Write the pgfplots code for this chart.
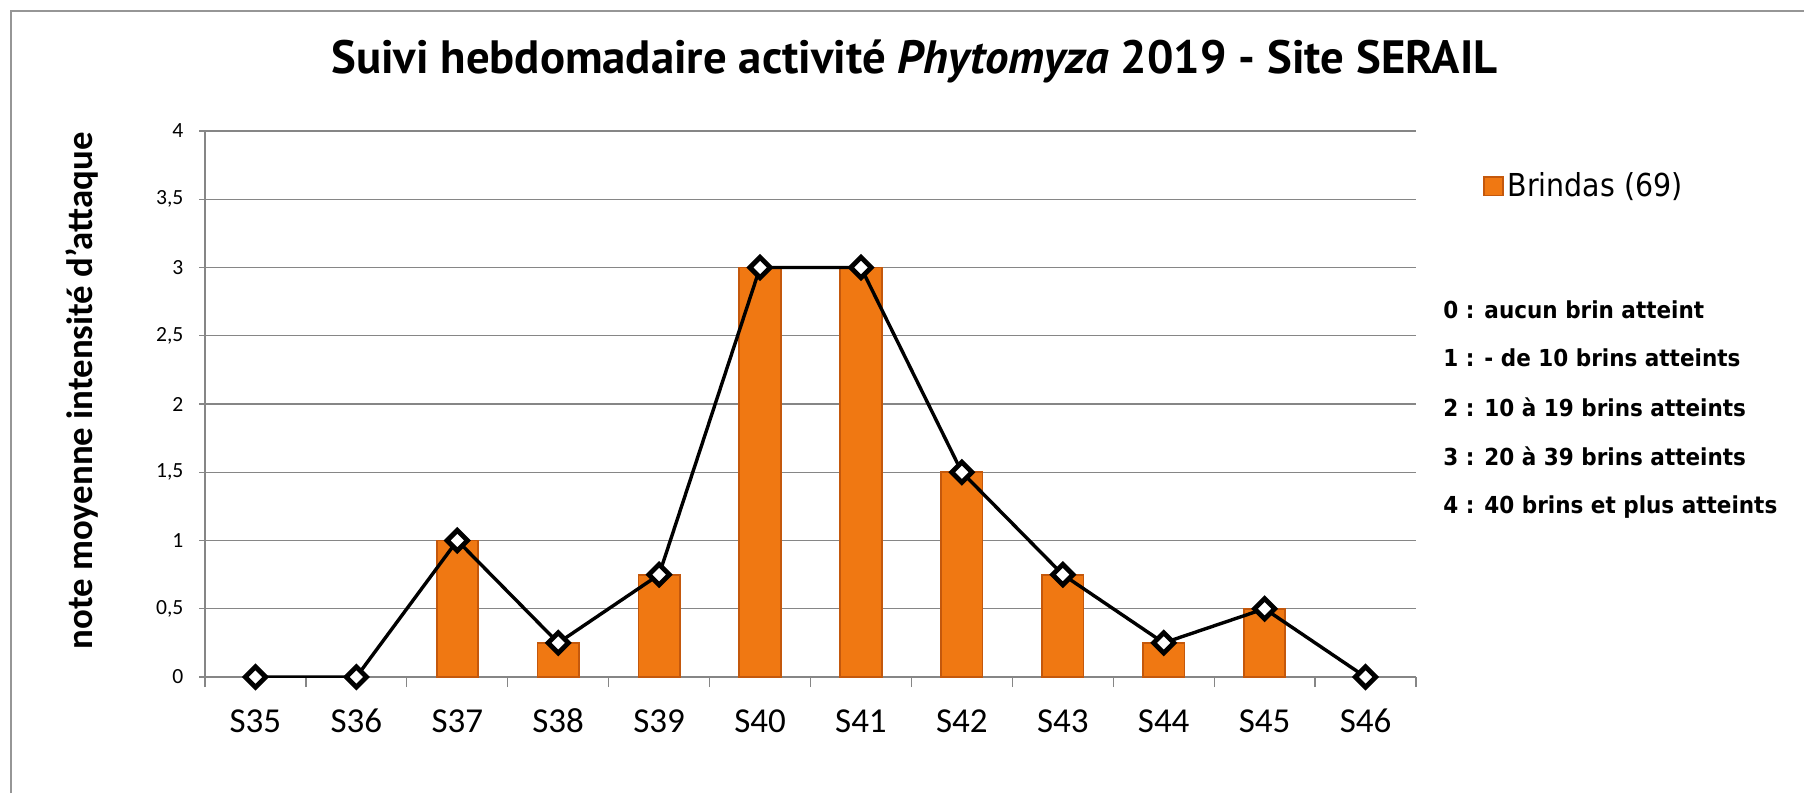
\documentclass[border=0pt]{standalone}
\usepackage{fontspec}
\setmainfont{Carlito}
\newfontfamily\titlefont{PT Sans}
\newfontfamily\legfont{DejaVu Sans}
\usepackage{pgfplots}
\pgfplotsset{compat=1.18}
\definecolor{gridgray}{RGB}{134,134,134}
\definecolor{framegray}{RGB}{150,150,150}
\definecolor{barmain}{RGB}{240,120,18}
\definecolor{bardark}{RGB}{196,88,12}
\begin{document}
\begin{tikzpicture}
\path[use as bounding box] (0,0) rectangle (902pt,396.5pt);
\draw[framegray, line width=1pt] (5.5pt,0) -- (5.5pt,391pt) -- (902pt,391pt);
\begin{axis}[
  at={(102.5pt,58pt)}, anchor=south west,
  scale only axis, width=605.5pt, height=273pt,
  xmin=-0.5, xmax=11.5, ymin=0, ymax=4,
  axis lines=left, axis line style={-, gridgray, line width=0.6pt},
  ymajorgrids, grid style={gridgray, line width=0.6pt},
  ytick={0,0.5,...,4},
  xtick={0,...,11},
  xticklabels={S35,S36,S37,S38,S39,S40,S41,S42,S43,S44,S45,S46},
  minor xtick={-0.5,0.5,...,11.5},
  tick align=outside,
  major tick length=3pt, minor tick length=5pt,
  tick style={gridgray, line width=0.6pt},
  major x tick style={draw=none},
  /pgf/number format/.cd, use comma, fixed, assume math mode=true,
  /pgfplots/.cd,
  yticklabel style={font=\fontsize{10.8}{12}\selectfont, anchor=east, xshift=-4.3pt},
  xticklabel style={font=\fontsize{17.5}{20}\selectfont, anchor=base, yshift=-24.5pt},
  legend style={at={(1.0553,0.8984)}, anchor=west, draw=none, fill=none,
    inner sep=0pt, outer sep=0pt,
    font=\legfont\fontsize{15.8}{18}\selectfont},
  legend cell align=left,
]
\addplot[ybar, bar width=0.41, bar shift=0pt, fill=barmain, draw=bardark, line width=0.9pt,
  legend image code/.code={\filldraw[fill=barmain, draw=bardark, line width=0.8pt] (0pt,-4.6pt) rectangle (9.6pt,4.6pt);}]
  coordinates {(2,1) (3,0.25) (4,0.75) (5,3) (6,3) (7,1.5) (8,0.75) (9,0.25) (10,0.5)};
\addlegendentry{\scalebox{0.9}[1]{Brindas (69)}}
\addplot[black, line width=1.7pt, mark=square*, mark size=3.6pt,
  mark options={rotate=45, fill=white, draw=black, line width=2.4pt}, forget plot]
  coordinates {(0,0) (1,0) (2,1) (3,0.25) (4,0.75) (5,3) (6,3) (7,1.5) (8,0.75) (9,0.25) (10,0.5) (11,0)};
\end{axis}
\node[anchor=base, inner sep=0pt] at (457.25pt,359.5pt)
  {\resizebox{583pt}{!}{\titlefont\bfseries Suivi hebdomadaire activité \textit{Phytomyza} 2019 - Site SERAIL}};
\node[rotate=90, anchor=base, inner sep=0pt, font=\bfseries\fontsize{18.4}{22}\selectfont]
  at (46.3pt,201pt) {note moyenne intensité d{\char"0027}attaque};
\begin{scope}[every node/.style={anchor=base west, inner sep=0pt, font=\legfont\bfseries\fontsize{11.7}{14}\selectfont}]
\node at (721.5pt,237.25pt) {\scalebox{0.92}[1]{0 : aucun brin atteint}};
\node at (721.5pt,213.25pt) {\scalebox{0.92}[1]{1 : - de 10 brins atteints}};
\node at (721.5pt,188.25pt) {\scalebox{0.92}[1]{2 : 10 à 19 brins atteints}};
\node at (721.5pt,163.75pt) {\scalebox{0.92}[1]{3 : 20 à 39 brins atteints}};
\node at (721.5pt,139.75pt) {\scalebox{0.92}[1]{4 : 40 brins et plus atteints}};
\end{scope}
\end{tikzpicture}
\end{document}
